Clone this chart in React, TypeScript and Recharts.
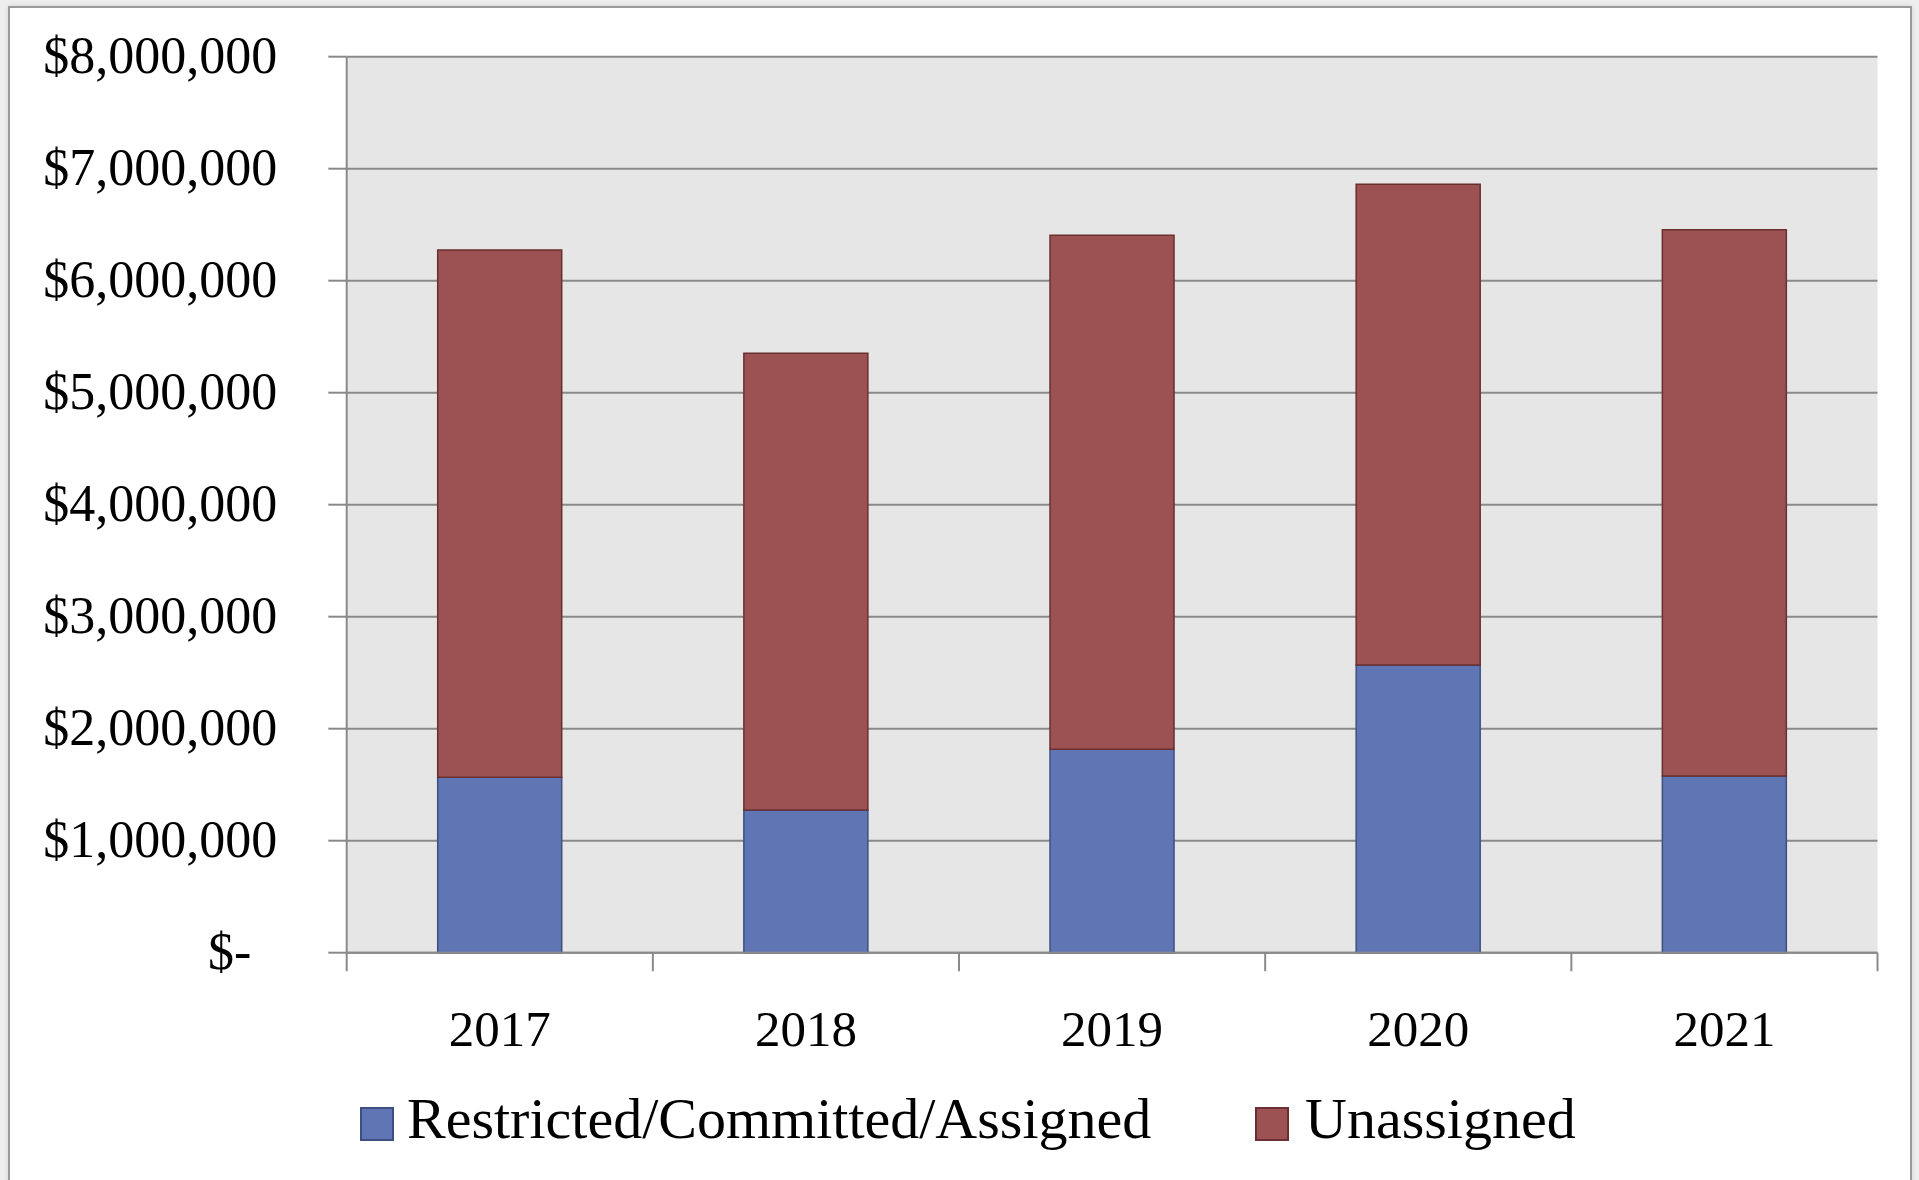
import React from 'react';
import { BarChart, Bar, XAxis, YAxis, CartesianGrid } from 'recharts';

// Fund balance by year, split into restricted/committed/assigned and unassigned
const years = ['2017', '2018', '2019', '2020', '2021'];
const restrictedCommittedAssigned = [1566000, 1274000, 1816000, 2569000, 1578000];
const unassigned = [4708000, 4078000, 4589000, 4292000, 4877000];
const yTicks = [0, 1000000, 2000000, 3000000, 4000000, 5000000, 6000000, 7000000, 8000000];

const seriesNames = ['Restricted/Committed/Assigned', 'Unassigned'];
const seriesFill = ['#6076b4', '#9c5252'];
const seriesStroke = ['#3d4f82', '#6a2f2f'];

const data = years.map((year, i) => ({
  year,
  rca: restrictedCommittedAssigned[i],
  unassigned: unassigned[i],
}));

const W = 1919;
const H = 1180;
const M_TOP = 56.7;
const M_RIGHT = 41.5;
const Y_AXIS_W = 346.7;
const X_AXIS_H = 227.3;
const PLOT_W = W - Y_AXIS_W - M_RIGHT;
const BAND = PLOT_W / years.length;

const FONT = '"Liberation Serif", "Times New Roman", serif';
const GRID = '#8a8a8a';

const fmtMoney = (v: number) =>
  v === 0 ? '$-' : '$' + v.toLocaleString('en-US');

const YTick = (props: any) => {
  const { x, y, payload } = props;
  const shift = payload.value === 0 ? 26 : 0;
  return (
    <text
      x={x - shift}
      y={y}
      dy={16.5}
      textAnchor="end"
      fontFamily={FONT}
      fontSize={52}
      fill="#000"
    >
      {fmtMoney(payload.value)}
    </text>
  );
};

const XTick = (props: any) => {
  const { x, y, payload, index } = props;
  const half = BAND / 2;
  const last = index === years.length - 1;
  return (
    <g>
      <line x1={x - half} x2={x - half} y1={y} y2={y + 18.5} stroke={GRID} strokeWidth={2} />
      {last && (
        <line x1={x + half} x2={x + half} y1={y} y2={y + 18.5} stroke={GRID} strokeWidth={2} />
      )}
      <text
        x={x}
        y={y + 93.3}
        textAnchor="middle"
        fontFamily={FONT}
        fontSize={51}
        fill="#000"
      >
        {payload.value}
      </text>
    </g>
  );
};

const legendLayout = [
  { box: 360, text: 407 },
  { box: 1255, text: 1305 },
];

export default function App() {
  return (
    <div
      style={{
        position: 'absolute',
        left: 0,
        top: 0,
        width: W,
        height: H,
        overflow: 'hidden',
        background: '#eeeeee',
      }}
    >
      <div
        style={{
          position: 'absolute',
          left: 8,
          top: 6,
          width: 1900,
          height: 1300,
          background: '#ffffff',
          border: '2px solid #9a9a9a',
          boxShadow: '0 0 5px rgba(0,0,0,0.12)',
        }}
      />
      <div style={{ position: 'absolute', left: 0, top: 0 }}>
        <BarChart
          width={W}
          height={H}
          data={data}
          margin={{ top: M_TOP, right: M_RIGHT, bottom: 0, left: 0 }}
          barSize={124}
        >
          <CartesianGrid
            vertical={false}
            fill="#e6e6e6"
            stroke={GRID}
            strokeWidth={2}
          />
          <YAxis
            width={Y_AXIS_W}
            domain={[0, 8000000]}
            ticks={yTicks}
            interval={0}
            axisLine={{ stroke: GRID, strokeWidth: 2 }}
            tickLine={{ stroke: GRID, strokeWidth: 2 }}
            tickSize={18.4}
            tickMargin={51}
            tick={<YTick />}
          />
          <XAxis
            dataKey="year"
            height={X_AXIS_H}
            interval={0}
            axisLine={{ stroke: GRID, strokeWidth: 2 }}
            tickLine={false}
            tickSize={0}
            tickMargin={0}
            tick={<XTick />}
          />
          <Bar
            dataKey="rca"
            name={seriesNames[0]}
            stackId="a"
            fill={seriesFill[0]}
            stroke={seriesStroke[0]}
            strokeWidth={1.5}
            isAnimationActive={false}
          />
          <Bar
            dataKey="unassigned"
            name={seriesNames[1]}
            stackId="a"
            fill={seriesFill[1]}
            stroke={seriesStroke[1]}
            strokeWidth={1.5}
            isAnimationActive={false}
          />
        </BarChart>
      </div>
      {seriesNames.map((name, i) => (
        <React.Fragment key={name}>
          <div
            style={{
              position: 'absolute',
              left: legendLayout[i].box,
              top: 1107,
              width: 30,
              height: 30,
              background: seriesFill[i],
              border: `2px solid ${seriesStroke[i]}`,
            }}
          />
          <div
            style={{
              position: 'absolute',
              left: legendLayout[i].text,
              top: 1086,
              fontFamily: FONT,
              fontSize: 58,
              lineHeight: '66px',
              color: '#000',
              whiteSpace: 'nowrap',
            }}
          >
            {name}
          </div>
        </React.Fragment>
      ))}
    </div>
  );
}
